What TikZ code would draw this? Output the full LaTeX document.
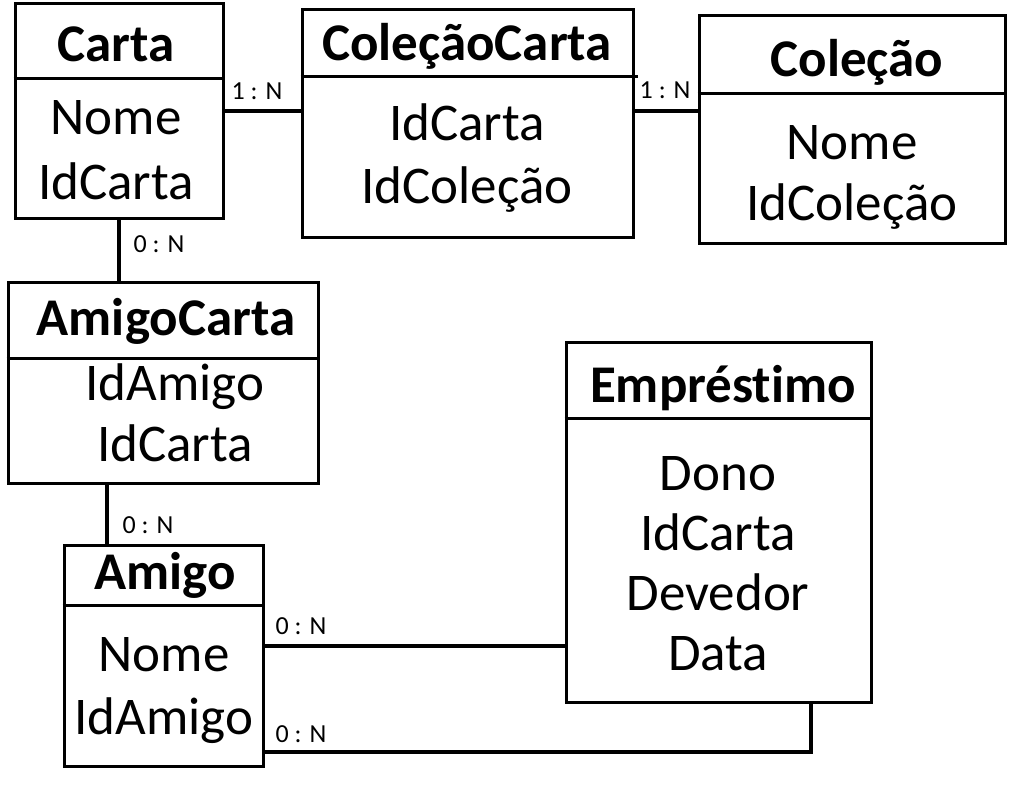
\documentclass[tikz,border=0pt]{standalone}
\usepackage{fontspec}
\setmainfont{Carlito}[Ligatures={NoCommon}]
\begin{document}
\begin{tikzpicture}[x=1pt,y=-1pt,
  ent/.style={draw, line width=3pt, inner sep=0pt},
  divline/.style={line width=3pt},
  conn/.style={line width=4pt},
  ttl/.style={anchor=base, inner sep=0pt, yshift=-2pt, font=\fontsize{53}{60}\selectfont\bfseries},
  attr/.style={anchor=base, inner sep=0pt, yshift=-2pt, font=\fontsize{53}{60}\selectfont},
  card/.style={anchor=base, inner sep=0pt, font=\fontsize{26}{30}\selectfont}]
\useasboundingbox (0,0) rectangle (1033,797);
% boxes
\node[ent, minimum width=208pt, minimum height=214pt] (carta) at (119,111) {};
\node[ent, minimum width=331pt, minimum height=227pt] (colcarta) at (467.5,123.5) {};
\node[ent, minimum width=306pt, minimum height=227pt] (colecao) at (852,129.5) {};
\node[ent, minimum width=310pt, minimum height=201pt] (amigocarta) at (163,382.5) {};
\node[ent, minimum width=199pt, minimum height=221pt] (amigo) at (163.5,655.5) {};
\node[ent, minimum width=305pt, minimum height=360pt] (emprestimo) at (718.5,522) {};
% dividers
\draw[divline] (carta.west |- 0,79) -- (carta.east |- 0,79);
\draw[divline] (colcarta.west |- 0,77) -- ([xshift=3pt]colcarta.east |- 0,77);
\draw[divline] (colecao.west |- 0,94) -- (colecao.east |- 0,94);
\draw[divline] (amigocarta.west |- 0,358) -- (amigocarta.east |- 0,358);
\draw[divline] (amigo.west |- 0,605) -- (amigo.east |- 0,605);
\draw[divline] (emprestimo.west |- 0,418) -- (emprestimo.east |- 0,418);
% titles
\node[ttl] (tcarta) at (116,60) {Carta};
\node[ttl] (tcolcarta) at (467,59) {ColeçãoCarta};
\node[ttl] (tcolecao) at (857,75) {Coleção};
\node[ttl] (tamigocarta) at (166,333) {AmigoCarta};
\node[ttl] (tamigo) at (165,587) {Amigo};
\node[ttl] (temprestimo) at (723,400) {Empréstimo};
% attributes
\node[attr] (a1) at (116,133) {Nome};
\node[attr] (a2) at (116,197) {IdCarta};
\node[attr] (a3) at (467,138) {IdCarta};
\node[attr] (a4) at (467,201) {IdColeção};
\node[attr] (a5) at (852,157) {Nome};
\node[attr] (a6) at (852,218) {IdColeção};
\node[attr] (a7) at (175,398) {IdAmigo};
\node[attr] (a8) at (175,459) {IdCarta};
\node[attr] (a9) at (164,669) {Nome};
\node[attr] (a10) at (164,732) {IdAmigo};
\node[attr] (a11) at (718,488) {Dono};
\node[attr] (a12) at (718,548) {IdCarta};
\node[attr] (a13) at (718,608) {Devedor};
\node[attr] (a14) at (718,668) {Data};
% connectors
\coordinate (bend) at (811,752);
\draw[conn] (carta.east |- 0,111) -- (colcarta.west |- 0,111);
\draw[conn] (colcarta.east |- 0,111) -- (colecao.west |- 0,111);
\draw[conn] (carta.south -| 119,0) -- (amigocarta.north -| 119,0);
\draw[conn] (amigocarta.south -| 107,0) -- (amigo.north -| 107,0);
\draw[conn] (amigo.east |- 0,646) -- (emprestimo.west |- 0,646);
\draw[conn] (amigo.east |- bend) -- (bend) -- (emprestimo.south -| bend);
% cardinalities
\node[card] (c1) at (257,100) {1 : N};
\node[card] (c2) at (665,99) {1 : N};
\node[card] (c3) at (159,252) {0 : N};
\node[card] (c4) at (148,533) {0 : N};
\node[card] (c5) at (301,634) {0 : N};
\node[card] (c6) at (301,742) {0 : N};
\end{tikzpicture}
\end{document}
